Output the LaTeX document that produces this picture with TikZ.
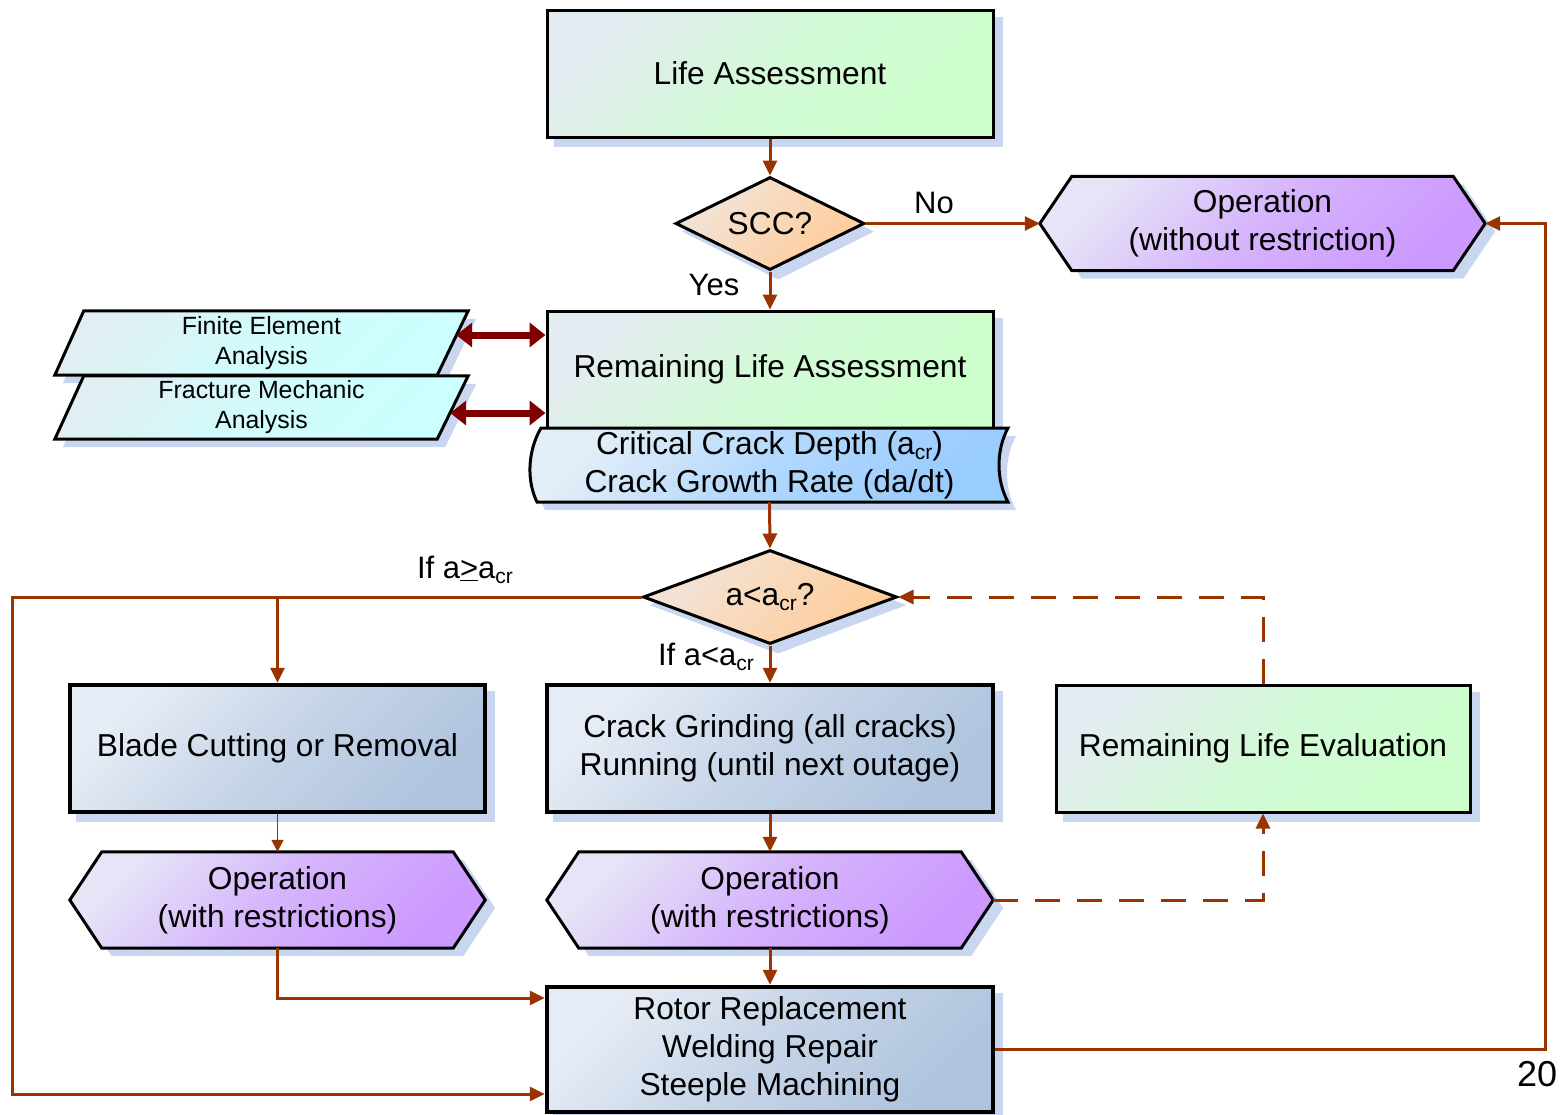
\documentclass[tikz,border=0pt]{standalone}
\usepackage{fontspec}
\setmainfont{Liberation Sans}
\usetikzlibrary{shapes.geometric,arrows.meta,calc}
\pgfdeclarelayer{shadow}
\pgfdeclarelayer{background}
\pgfsetlayers{shadow,background,main}
\definecolor{brn}{HTML}{993300}
\definecolor{dred}{HTML}{800000}
\definecolor{shd}{HTML}{C9D6F0}
\definecolor{gA}{HTML}{E3ECF0}\definecolor{gB}{HTML}{CCFFCC}
\definecolor{oA}{HTML}{F2E4DA}\definecolor{oB}{HTML}{FFCC99}
\definecolor{pA}{HTML}{E6E4F6}\definecolor{pB}{HTML}{CC99FF}
\definecolor{cA}{HTML}{E0F0F2}\definecolor{cB}{HTML}{CCFFFF}
\definecolor{bA}{HTML}{E3EEF8}\definecolor{bB}{HTML}{99CCFF}
\definecolor{sA}{HTML}{E6ECF5}\definecolor{sB}{HTML}{B0C4DE}
\newcommand\crs{\raisebox{-5pt}{\fontsize{21pt}{21pt}\selectfont cr}}
\newcommand\hexpath[3]{\path[#2] ($(#1.west)+#3$) -- ($(#1.north west)+(32,0)+#3$) -- ($(#1.north east)+(-32,0)+#3$) -- ($(#1.east)+#3$) -- ($(#1.south east)+(-32,0)+#3$) -- ($(#1.south west)+(32,0)+#3$) -- cycle;}
\newcommand\parapath[3]{\path[#2] ($(#1.north west)+(29,0)+#3$) -- ($(#1.north east)+#3$) -- ($(#1.south east)+(-31,0)+#3$) -- ($(#1.south west)+#3$) -- cycle;}
\newcommand\diapath[3]{\path[#2] ($(#1.west)+#3$) -- ($(#1.north)+#3$) -- ($(#1.east)+#3$) -- ($(#1.south)+#3$) -- cycle;}
\newcommand\docpath[2]{\path[#1] ($(docNW)+(10,0)+#2$) -- ($(docNW -| docSE)+#2$) .. controls ($(docNW -| docSE)+(-12,22)+#2$) and ($(docSE)+(-12,-22)+#2$) .. ($(docSE)+#2$) -- ($(docSE -| docNW)+(6,0)+#2$) .. controls ($(docSE -| docNW)+(-4,-20)+#2$) and ($(docNW)+(-4,24)+#2$) .. ($(docNW)+(10,0)+#2$) -- cycle;}
\begin{document}
\begin{tikzpicture}[x=1pt,y=-1pt,
  base/.style={inner sep=0pt, align=center, font=\fontsize{31.7pt}{38pt}\selectfont},
  lbl/.style={inner sep=0pt, font=\fontsize{31pt}{37pt}\selectfont},
  box/.style={base, rectangle, draw, line width=3pt},
  heavy/.style={box, line width=4.5pt},
  green/.style={top color=gA, bottom color=gB, middle color=gB!70!gA, shading angle=45},
  orng/.style={top color=oA, bottom color=oB, shading angle=45},
  purp/.style={top color=pA, bottom color=pB, middle color=pB!65!pA, shading angle=45},
  cyan/.style={top color=cA, bottom color=cB, middle color=cB!75!cA, shading angle=45},
  blu/.style={top color=bA, bottom color=bB, middle color=bB!65!bA, shading angle=45},
  steel/.style={top color=sA, bottom color=sB, middle color=sB!60!sA, shading angle=45},
  dia/.style={base, diamond, draw, line width=3pt},
  outl/.style={draw, line width=3pt, line join=miter},
  conn/.style={draw=brn, line width=3pt, -{Triangle[length=15pt,width=14pt]}},
  thinc/.style={draw=brn, line width=1.5pt, -{Triangle[length=12pt,width=12pt]}},
  dashc/.style={conn, dash pattern=on 25pt off 17pt},
  dbl/.style={draw=dred, line width=7pt, {Triangle[length=16pt,width=24pt]}-{Triangle[length=16pt,width=24pt]}}
]
\useasboundingbox (0,0) rectangle (1560,1114);

% ---- nodes
\node[box, green, minimum width=446pt, minimum height=127pt] (la) at (770,73.5) {Life Assessment};
\node[dia, orng, aspect=2.03, minimum width=189pt, minimum height=93pt] (scc) at (770,223.5) {SCC?};
\node[base, minimum width=445pt, minimum height=94pt] (opw) at (1262.5,223.5) {Operation\\(without restriction)};
\node[box, green, minimum width=446pt, minimum height=117pt] (rla) at (770,369.5) {Remaining Life Assessment};
\coordinate (docNW) at (531,428);
\coordinate (docSE) at (1008,502);
\docpath{outl, blu}{(0,0)}
\node[base] (doc) at ($(docNW)!0.5!(docSE)$) {Critical Crack Depth (a\crs)\\Crack Growth Rate (da/dt)};
\node[base, minimum width=413pt, minimum height=64pt, font=\fontsize{24.9pt}{30pt}\selectfont] (fea) at (261.5,343) {Finite Element\\Analysis};
\node[base, minimum width=413pt, minimum height=63pt, font=\fontsize{24.9pt}{30pt}\selectfont] (fma) at (261.5,407.5) {Fracture Mechanic\\Analysis};
\node[dia, orng, aspect=2.7, minimum width=254pt, minimum height=94pt] (acr) at (770,597) {a<a\crs?};
\node[heavy, steel, minimum width=415pt, minimum height=127pt] (blade) at (277.5,748.5) {Blade Cutting or Removal};
\node[heavy, steel, minimum width=446pt, minimum height=127pt] (crack) at (770,748.5) {Crack Grinding (all cracks)\\Running (until next outage)};
\node[box, green, minimum width=414pt, minimum height=127pt] (rle) at (1263,748.5) {Remaining Life Evaluation};
\node[base, minimum width=415pt, minimum height=96pt] (opl) at (277.5,900) {Operation\\(with restrictions)};
\node[base, minimum width=446pt, minimum height=96pt] (opr) at (770,900) {Operation\\(with restrictions)};
\node[heavy, steel, minimum width=446pt, minimum height=125pt] (rot) at (770,1049.5) {Rotor Replacement\\Welding Repair\\Steeple Machining};

% ---- labels
\node[lbl] (no) at (934,203) {No};
\node[lbl] (yes) at (714,285) {Yes};
\node[lbl] (ige) at (465,570) {If a\underline{>}a\crs};
\node[lbl] (ilt) at (706,657) {If a<a\crs};
\node[lbl, font=\fontsize{36pt}{40pt}\selectfont] (pg) at (1537,1074) {20};

% ---- drawn shapes
\begin{pgfonlayer}{background}
\hexpath{opw}{outl, purp}{(0,0)}
\hexpath{opl}{outl, purp}{(0,0)}
\hexpath{opr}{outl, purp}{(0,0)}
\parapath{fma}{outl, cyan}{(0,0)}
\parapath{fea}{outl, cyan}{(0,0)}
\end{pgfonlayer}

% ---- shadows
\begin{pgfonlayer}{shadow}
\foreach \n in {la,rla,blade,crack,rle,rot}{
  \fill[shd] ($(\n.north west)+(8,8)$) rectangle ($(\n.south east)+(8,8)$);
}
\hexpath{opw}{fill=shd}{(10,8)}
\hexpath{opl}{fill=shd}{(10,8)}
\hexpath{opr}{fill=shd}{(10,8)}
\parapath{fma}{fill=shd}{(8,8)}
\parapath{fea}{fill=shd}{(8,8)}
\docpath{fill=shd}{(8,8)}
\diapath{scc}{fill=shd}{(8,8)}
\diapath{acr}{fill=shd}{(8,8)}
\end{pgfonlayer}

% ---- connectors
\draw[conn] (la.south) -- (scc.north);
\draw[conn] (scc.east) -- (opw.west);
\draw[conn] (scc.south) -- (rla.north);
\coordinate (fe1) at ([xshift=-12pt,yshift=8pt]fea.east);
\coordinate (fm1) at ([xshift=-18pt,yshift=-5.5pt]fma.east);
\draw[dbl] (fe1) -- (fe1 -| rla.west);
\draw[dbl] (fm1) -- (fm1 -| rla.west);
\draw[conn] (doc.south |- docSE) -- (acr.north);
\coordinate (lc) at (12,597);
\draw[conn] (acr.west) -- (lc) |- ([yshift=-44.5pt]rot.west);
\draw[conn] (acr.west -| blade.north) -- (blade.north);
\draw[conn] (acr.south) -- (crack.north);
\draw[thinc] (blade.south) -- (opl.north);
\draw[conn] (crack.south) -- (opr.north);
\draw[conn] (opl.south) |- ([yshift=51.5pt]rot.west);
\draw[conn] (opr.south) -- (rot.north);
\draw[dashc] (opr.east) -| (rle.south);
\draw[dashc] (rle.north) |- (acr.east);
\draw[conn] (rot.east) -| ([xshift=60pt]opw.east) -- (opw.east);
\end{tikzpicture}
\end{document}
